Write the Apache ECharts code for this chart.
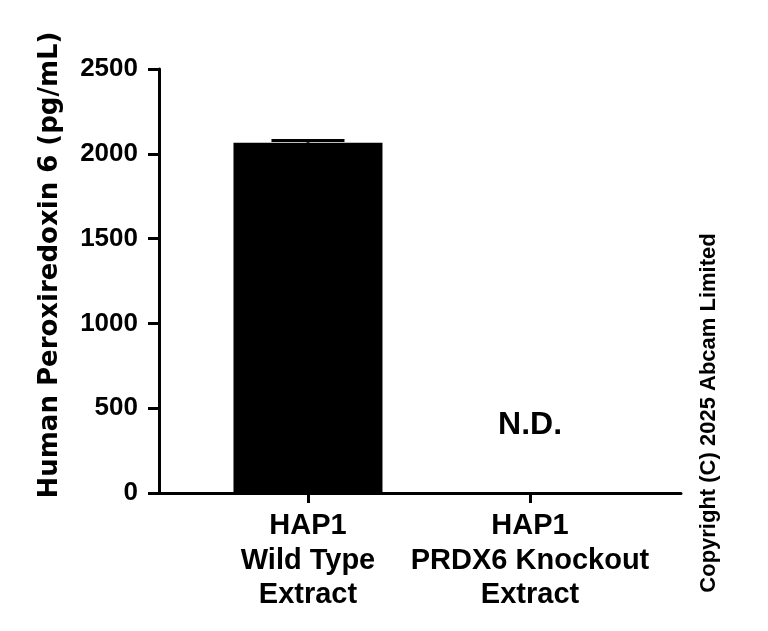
<!DOCTYPE html>
<html>
<head>
<meta charset="utf-8">
<script src="https://cdn.jsdelivr.net/npm/echarts@6/dist/echarts.min.js"></script>
<style>html,body{margin:0;padding:0;background:#fff;}#c{width:768px;height:631px;}</style>
</head>
<body>
<div id="c"></div>
<script>
const categories = ['HAP1\nWild Type\nExtract', 'HAP1\nPRDX6 Knockout\nExtract'];
const means = [2065, 0];
const errors = [14, 0];
const notDetected = [false, true];
const yTicks = [0, 500, 1000, 1500, 2000, 2500];
const yTitle = 'Human Peroxiredoxin 6 (pg/mL)';
const copyright = 'Copyright (C) 2025 Abcam Limited';

const chart = echarts.init(document.getElementById('c'), null, {renderer: 'canvas'});
const barData = [];
const errData = [];
const ndData = [];
categories.forEach((c, i) => {
  if (!notDetected[i]) {
    barData.push([i, means[i]]);
    errData.push([i, means[i], means[i] + errors[i]]);
  } else {
    ndData.push([i, 0]);
  }
});

const axisFont = 'Liberation Sans, Arial, sans-serif';
chart.setOption({
  animation: false,
  backgroundColor: '#fff',
  grid: {left: 159, right: 87, top: 69, bottom: 138, containLabel: false},
  xAxis: {
    type: 'value',
    min: -0.671,
    max: 1.68,
    splitLine: {show: false},
    axisLine: {show: true, onZero: false, lineStyle: {color: '#000', width: 3}},
    axisTick: {show: true, customValues: [0, 1], length: 10, lineStyle: {color: '#000', width: 3}},
    axisLabel: {
      customValues: [0, 1],
      formatter: v => categories[Math.round(v)],
      color: '#000', fontFamily: axisFont, fontWeight: 'bold', fontSize: 29,
      lineHeight: 34.5, margin: 16, align: 'center'
    }
  },
  yAxis: {
    type: 'value',
    min: yTicks[0],
    max: yTicks[yTicks.length - 1],
    interval: 500,
    splitLine: {show: false},
    axisLine: {show: true, onZero: false, lineStyle: {color: '#000', width: 3}},
    axisTick: {show: true, length: 11, lineStyle: {color: '#000', width: 3}},
    axisLabel: {color: '#000', fontFamily: axisFont, fontWeight: 'bold', fontSize: 26, margin: 21, formatter: v => String(v)},
    name: yTitle,
    nameLocation: 'middle',
    nameRotate: 90,
    nameGap: 96,
    nameTextStyle: {color: '#000', fontFamily: 'DejaVu Sans, sans-serif', fontWeight: 'bold', fontSize: 26, padding: [0, 0, 0, 32]}
  },
  series: [
    {
      type: 'bar',
      data: barData,
      barWidth: 149,
      itemStyle: {color: '#000'},
      z: 2
    },
    {
      type: 'custom',
      data: errData,
      z: 3,
      renderItem: function (params, api) {
        const x = api.value(0);
        const top = api.coord([x, api.value(2)]);
        const mid = api.coord([x, api.value(1)]);
        const half = 36.5;
        return {
          type: 'group',
          children: [
            {type: 'line', shape: {x1: top[0], y1: top[1], x2: mid[0], y2: mid[1]}, style: {stroke: '#000', lineWidth: 3}},
            {type: 'line', shape: {x1: top[0] - half, y1: top[1], x2: top[0] + half, y2: top[1]}, style: {stroke: '#000', lineWidth: 3}}
          ]
        };
      }
    },
    {
      type: 'scatter',
      data: ndData,
      symbolSize: 0,
      itemStyle: {opacity: 1, color: '#000'},
      label: {
        show: true,
        position: 'inside',
        offset: [0, -68],
        formatter: 'N.D.',
        color: '#000', opacity: 1, textBorderWidth: 0,
        fontFamily: axisFont, fontWeight: 'bold', fontSize: 32
      }
    }
  ],
  graphic: [
    {
      type: 'text',
      x: 709, y: 413,
      rotation: Math.PI / 2,
      style: {
        text: copyright,
        fill: '#000',
        font: 'bold 22px Liberation Sans, Arial, sans-serif',
        align: 'center',
        verticalAlign: 'middle'
      }
    }
  ]
});
</script>
</body>
</html>
